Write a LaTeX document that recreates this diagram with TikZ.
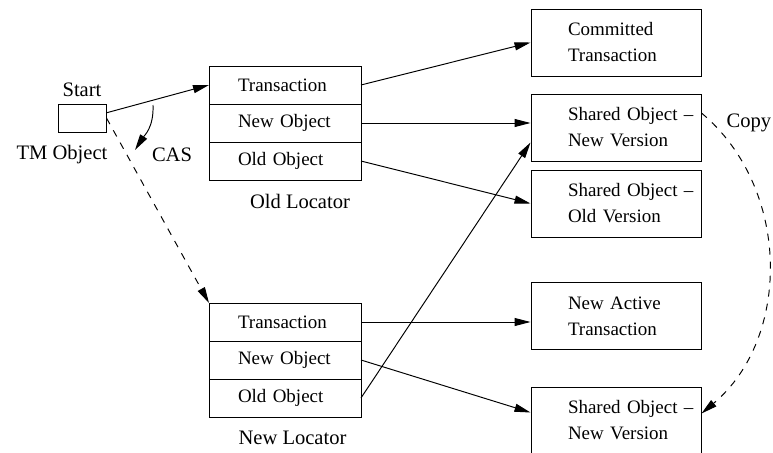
\documentclass[tikz,border=0pt]{standalone}
\usepackage{fontspec}
\setmainfont{Liberation Serif}
\usetikzlibrary{arrows.meta,positioning}
\newcommand{\cellfont}{\fontsize{10.8}{14.8}\selectfont}
\newcommand{\labelfont}{\fontsize{11.7}{14}\selectfont}
\tikzset{
  cell/.style={draw, outer sep=0pt, minimum width=3.04cm, minimum height=0.76cm, inner xsep=0.58cm, text width=1.88cm, align=left, font=\cellfont},
  objbox/.style={draw, minimum width=3.4cm, minimum height=1.34cm, inner xsep=0.74cm, text width=1.92cm, align=left, font=\cellfont},
  lbl/.style={font=\labelfont},
  ptr/.style={-{Triangle[length=0.32cm,width=0.16cm]}},
  dashptr/.style={ptr, dash pattern=on 4pt off 4pt},
}
\begin{document}
\begin{tikzpicture}[line width=0.55pt]
    \useasboundingbox (0,0) rectangle (15.46,-9.06);
    % TM object
    \node[draw, minimum width=0.96cm, minimum height=0.56cm] (start) at (1.64,-2.36) {};
    \node[lbl, above=0pt of start] (startlbl) {Start};
    \node[lbl] (tmlbl) at (1.24,-3.1) {TM Object};
    \node[lbl] (caslbl) at (3.44,-3.1) {CAS};
    % old locator
    \node[cell] (oldtx) at (5.7,-1.70) {Transaction};
    \node[cell, below=0pt of oldtx] (oldnew) {New Object};
    \node[cell, below=0pt of oldnew] (oldold) {Old Object};
    \node[lbl] (oldlbl) at (6.0,-4.03) {Old Locator};
    % new locator
    \node[cell] (newtx) at (5.7,-6.44) {Transaction};
    \node[cell, below=0pt of newtx] (newnew) {New Object};
    \node[cell, below=0pt of newnew] (newold) {Old Object};
    \node[lbl] (newlbl) at (5.85,-8.76) {New Locator};
    % objects on the right
    \node[objbox] (commit) at (12.32,-0.85) {\mbox{Committed}\\\mbox{Transaction}};
    \node[objbox] (sharednew) at (12.32,-2.55) {\mbox{Shared Object –}\\\mbox{New Version}};
    \node[objbox] (sharedold) at (12.32,-4.07) {\mbox{Shared Object –}\\\mbox{Old Version}};
    \node[objbox] (active) at (12.32,-6.32) {\mbox{New Active}\\\mbox{Transaction}};
    \node[objbox] (sharednewb) at (12.32,-8.41) {\mbox{Shared Object –}\\\mbox{New Version}};
    \node[lbl] (copylbl) at (14.98,-2.45) {Copy};
    % pointers
    \draw[ptr] (start.12) -- (oldtx.west);
    \draw[dashptr] (start.east) -- (newtx.north west);
    \coordinate (casfrom) at (3.06,-2.10);
    \coordinate (casto) at (2.70,-3.0);
    \draw[ptr] (casfrom) .. controls (3.08,-2.55) and (2.88,-2.72) .. (casto);
    \draw[ptr] (oldtx.east) -- (commit.west);
    \draw[ptr] (oldnew.east) -- (oldnew.east -| sharednew.west);
    \draw[ptr] (oldold.east) -- (sharedold.west);
    \draw[ptr] (newtx.east) -- (newtx.east -| active.west);
    \draw[ptr] (newnew.east) -- ([yshift=0.16cm]sharednewb.west);
    \draw[ptr] (newold.east) -- ([yshift=-0.3cm]sharednew.west);
    \draw[dashptr] ([yshift=0.29cm]sharednew.east) to[out=-40,in=40] ([yshift=0.14cm]sharednewb.east);
\end{tikzpicture}
\end{document}
